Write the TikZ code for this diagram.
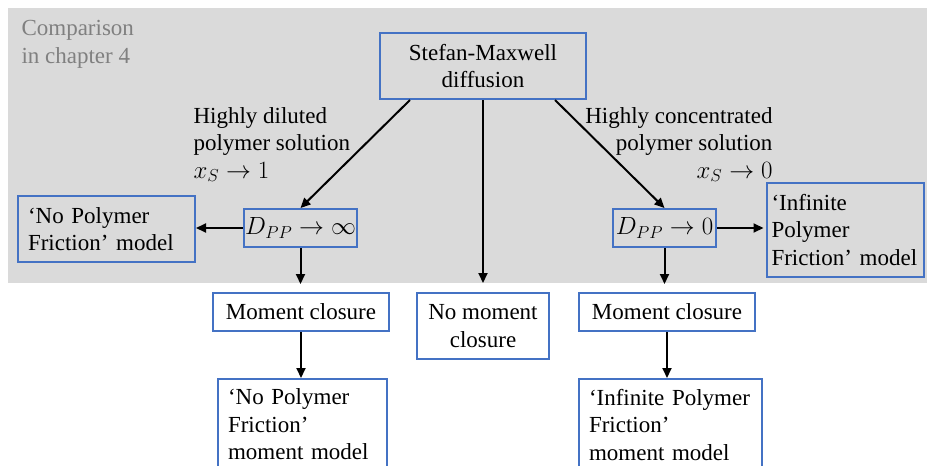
\documentclass[tikz,border=0pt]{standalone}
\usepackage{fontspec}
\setmainfont{Liberation Serif}
\usetikzlibrary{arrows.meta}
\definecolor{boxblue}{RGB}{68,114,196}
\definecolor{panelgray}{RGB}{218,218,218}
\definecolor{notegray}{RGB}{128,128,128}

\begin{document}
\begin{tikzpicture}[x=1pt, y=-1pt, font=\fontsize{23}{27.5}\selectfont,
        >={Triangle[length=10pt,width=9pt]},
        box/.style={draw=boxblue, line width=2pt, align=center, inner sep=0pt},
        leftbox/.style={draw=boxblue, line width=2pt, align=left, inner xsep=10pt, inner ysep=0pt}]
        \clip (0,0) rectangle (927,466);
        \fill[panelgray] (8,8) rectangle (927,283);

        \node[notegray, align=left, anchor=base west] (note) at (18,63) {Comparison\\in chapter 4};

        \node[box, minimum width=206pt, minimum height=66pt] (sm) at (483,66) {Stefan-Maxwell\\diffusion};

        \node[box, minimum width=113pt, minimum height=38pt] (dinf) at (300.5,228) {$D_{PP}\to\infty$};
        \node[box, minimum width=103pt, minimum height=38pt] (dzero) at (664.5,228) {$D_{PP}\to 0$};
        \node[leftbox, text width=157pt, minimum height=66pt] (npf) at (106.5,229) {`No Polymer\\Friction' model};
        \node[leftbox, inner xsep=5pt, text width=147pt, minimum height=94pt] (ipf) at (845,230) {`Infinite\\Polymer\\Friction' model};

        \node[box, minimum width=176pt, minimum height=38pt] (mcl) at (301,312) {Moment closure};
        \node[box, minimum width=132pt, minimum height=66pt] (nmc) at (483,326) {No moment\\closure};
        \node[box, minimum width=176pt, minimum height=38pt] (mcr) at (667,312) {Moment closure};

        \node[leftbox, text width=149pt, inner ysep=10pt, anchor=north] (npfm) at (302.5,378) {`No Polymer\\Friction'\\moment model};
        \node[leftbox, text width=163pt, inner ysep=10pt, anchor=north] (ipfm) at (670.5,378) {`Infinite Polymer\\Friction'\\moment model};

        \node[align=left, anchor=base west] (dil) at (190,178) {Highly diluted\\polymer solution\\$x_S\to 1$};
        \node[align=right, anchor=base east] (conc) at (776,178) {Highly concentrated\\polymer solution\\$x_S\to 0$};

        \begin{scope}[every path/.style={->, line width=2pt}]
        \draw ([xshift=-73pt]sm.south) -- (dinf.north);
        \draw ([xshift=72pt]sm.south) -- (dzero.north);
        \draw[shorten >=9pt] (sm.south) -- (nmc.north);
        \draw (dinf.west) -- (dinf.west -| npf.east);
        \draw[shorten >=2pt] (dzero.east) -- (dzero.east -| ipf.west);
        \draw[shorten >=8pt] (dinf.south) -- (dinf.south |- mcl.north);
        \draw[shorten >=8pt] (dzero.south) -- (dzero.south |- mcr.north);
        \draw (mcl.south) -- (mcl.south |- npfm.north);
        \draw (mcr.south) -- (mcr.south |- ipfm.north);
        \end{scope}

        \end{tikzpicture}
\end{document}
